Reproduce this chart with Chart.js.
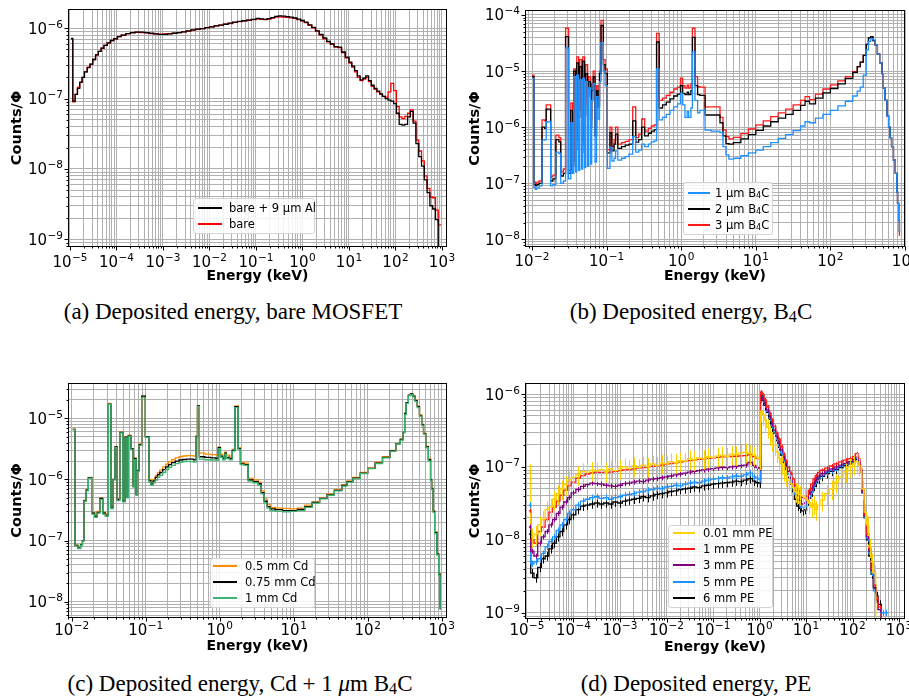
<!DOCTYPE html>
<html>
<head>
<meta charset="utf-8">
<script src="https://cdn.jsdelivr.net/npm/chart.js@4.4.1/dist/chart.umd.min.js"></script>
<style>
  body { margin: 0; background: #fff; }
  #page { position: relative; width: 909px; height: 697px; overflow: hidden; background: #fff; }
  canvas { position: absolute; }
  .cap { position: absolute; font-family: 'Liberation Serif', serif; font-size: 23px; line-height: 23px;
         white-space: nowrap; transform: translateX(-50%); color: #000; }
  .cap sub { font-size: 70%; vertical-align: -0.2em; line-height: 0; }
  .legend { position: absolute; box-sizing: border-box; background: rgba(255,255,255,0.85);
            border: 1px solid #d4d4d4; border-radius: 3px; }
  .legend .sw { position: absolute; height: 2px; }
  .legend .lt { position: absolute; font-family: 'DejaVu Sans', sans-serif; font-size: 11.5px; line-height: 13px;
                white-space: nowrap; transform: translateY(-50%); color: #000; }
  .legend .lt sub { font-size: 70%; vertical-align: -0.15em; line-height: 0; }
</style>
</head>
<body>
<div id="page">
  <canvas id="pa" width="455" height="290" style="left:0;top:0"></canvas>
  <canvas id="pb" width="454" height="290" style="left:455px;top:0"></canvas>
  <canvas id="pc" width="455" height="300" style="left:0;top:360px"></canvas>
  <canvas id="pd" width="454" height="300" style="left:455px;top:360px"></canvas>
  <div class="cap" style="left:233px;top:300px">(a) Deposited energy, bare MOSFET</div>
  <div class="cap" style="left:691px;top:300px">(b) Deposited energy, B<sub>4</sub>C</div>
  <div class="cap" style="left:240px;top:672px">(c) Deposited energy, Cd + 1 <i>μ</i>m B<sub>4</sub>C</div>
  <div class="cap" style="left:696px;top:672px">(d) Deposited energy, PE</div>
</div>
<script>
// histogram bin edges are log10(E / keV); each value array holds counts/Φ per bin

// (a) bare MOSFET
const edgesA = [-4.98, -4.94, -4.89, -4.84, -4.79, -4.74, -4.69, -4.63, -4.57, -4.51,
  -4.45, -4.39, -4.33, -4.27, -4.20, -4.13, -4.06, -3.98, -3.90, -3.80,
  -3.70, -3.60, -3.50, -3.40, -3.30, -3.20, -3.10, -3.00, -2.90, -2.80,
  -2.70, -2.60, -2.50, -2.40, -2.30, -2.20, -2.10, -2.00, -1.90, -1.80,
  -1.70, -1.60, -1.50, -1.40, -1.30, -1.20, -1.10, -1.00, -0.92, -0.84,
  -0.76, -0.68, -0.60, -0.52, -0.44, -0.36, -0.28, -0.20, -0.12, -0.04,
  0.04, 0.12, 0.20, 0.28, 0.36, 0.44, 0.52, 0.60, 0.68, 0.76,
  0.84, 0.92, 1.00, 1.06, 1.12, 1.18, 1.24, 1.30, 1.36, 1.42,
  1.48, 1.54, 1.60, 1.66, 1.72, 1.78, 1.84, 1.90, 1.96, 2.02,
  2.08, 2.14, 2.20, 2.26, 2.32, 2.38, 2.44, 2.50, 2.56, 2.62,
  2.68, 2.74, 2.80, 2.86, 2.92, 2.98];
const bareAl = [7.2e-7, 9.2e-8, 1.15e-7, 1.4e-7, 1.7e-7, 2.0e-7, 2.4e-7, 2.75e-7, 3.1e-7, 3.6e-7,
  4.2e-7, 4.7e-7, 5.2e-7, 5.7e-7, 6.2e-7, 6.7e-7, 7.1e-7, 7.6e-7, 8.0e-7, 8.4e-7,
  8.7e-7, 8.8e-7, 8.8e-7, 8.7e-7, 8.5e-7, 8.3e-7, 8.2e-7, 8.2e-7, 8.3e-7, 8.5e-7,
  8.7e-7, 8.9e-7, 9.2e-7, 9.5e-7, 9.7e-7, 9.9e-7, 1.02e-6, 1.05e-6, 1.08e-6, 1.11e-6,
  1.14e-6, 1.18e-6, 1.22e-6, 1.25e-6, 1.28e-6, 1.31e-6, 1.34e-6, 1.38e-6, 1.36e-6, 1.34e-6,
  1.37e-6, 1.42e-6, 1.48e-6, 1.5e-6, 1.49e-6, 1.46e-6, 1.44e-6, 1.4e-6, 1.35e-6, 1.29e-6,
  1.22e-6, 1.12e-6, 1.03e-6, 9.2e-7, 8.2e-7, 7.3e-7, 6.5e-7, 6.0e-7, 5.5e-7, 5.4e-7,
  4.6e-7, 3.9e-7, 3.3e-7, 2.9e-7, 2.5e-7, 2.1e-7, 1.85e-7, 1.95e-7, 2.1e-7, 1.8e-7,
  1.55e-7, 1.4e-7, 1.28e-7, 1.17e-7, 1.08e-7, 1.0e-7, 9.5e-8, 9.2e-8, 8.5e-8, 6.2e-8,
  4.3e-8, 4.2e-8, 4.3e-8, 5.5e-8, 6.6e-8, 4.5e-8, 2.3e-8, 1.5e-8, 1.1e-8, 7.0e-9,
  4.6e-9, 3.0e-9, 2.7e-9, 1.9e-9, 5.0e-10];
const bare = [7.0e-7, 9.0e-8, 1.15e-7, 1.45e-7, 1.72e-7, 2.0e-7, 2.4e-7, 2.8e-7, 3.1e-7, 3.6e-7,
  4.2e-7, 4.7e-7, 5.2e-7, 5.7e-7, 6.2e-7, 6.7e-7, 7.1e-7, 7.6e-7, 8.0e-7, 8.4e-7,
  8.6e-7, 8.8e-7, 8.7e-7, 8.6e-7, 8.4e-7, 8.3e-7, 8.2e-7, 8.3e-7, 8.4e-7, 8.5e-7,
  8.7e-7, 8.9e-7, 9.1e-7, 9.4e-7, 9.7e-7, 9.9e-7, 1.02e-6, 1.05e-6, 1.08e-6, 1.11e-6,
  1.14e-6, 1.17e-6, 1.21e-6, 1.24e-6, 1.27e-6, 1.3e-6, 1.33e-6, 1.35e-6, 1.34e-6, 1.33e-6,
  1.35e-6, 1.4e-6, 1.44e-6, 1.45e-6, 1.44e-6, 1.43e-6, 1.41e-6, 1.38e-6, 1.33e-6, 1.28e-6,
  1.2e-6, 1.1e-6, 1.01e-6, 9.1e-7, 8.0e-7, 7.1e-7, 6.4e-7, 5.9e-7, 5.4e-7, 5.3e-7,
  4.5e-7, 3.8e-7, 3.2e-7, 2.8e-7, 2.4e-7, 2.0e-7, 1.8e-7, 1.9e-7, 2.0e-7, 1.75e-7,
  1.5e-7, 1.35e-7, 1.25e-7, 1.15e-7, 1.08e-7, 1.05e-7, 1.25e-7, 1.65e-7, 1.3e-7, 7.7e-8,
  5.5e-8, 5.2e-8, 5.6e-8, 6.2e-8, 6.9e-8, 4.8e-8, 2.6e-8, 1.8e-8, 1.3e-8, 8.0e-9,
  5.3e-9, 4.0e-9, 3.9e-9, 2.6e-9, 1.6e-9];

// (b) B4C layers
const edgesB = [-2.000, -1.975, -1.955, -1.935, -1.905, -1.866, -1.830, -1.810, -1.750, -1.720,
  -1.680, -1.640, -1.615, -1.580, -1.550, -1.510, -1.480, -1.455, -1.440, -1.415,
  -1.400, -1.375, -1.360, -1.335, -1.320, -1.295, -1.280, -1.255, -1.240, -1.215,
  -1.200, -1.180, -1.155, -1.135, -1.115, -1.095, -1.075, -1.044, -1.020, -0.990,
  -0.955, -0.930, -0.900, -0.880, -0.850, -0.800, -0.750, -0.700, -0.650, -0.610,
  -0.570, -0.530, -0.490, -0.440, -0.400, -0.360, -0.330, -0.295, -0.250, -0.200,
  -0.150, -0.100, -0.050, -0.010, 0.020, 0.050, 0.080, 0.100, 0.130, 0.150,
  0.185, 0.220, 0.250, 0.320, 0.400, 0.520, 0.560, 0.600, 0.640, 0.700,
  0.800, 0.900, 1.000, 1.100, 1.200, 1.300, 1.400, 1.500, 1.600, 1.660,
  1.720, 1.800, 1.900, 2.000, 2.100, 2.200, 2.300, 2.360, 2.400, 2.440,
  2.480, 2.510, 2.540, 2.570, 2.600, 2.630, 2.660, 2.690, 2.710, 2.730,
  2.760, 2.780, 2.800, 2.820, 2.845, 2.870, 2.890, 2.900, 2.915, 2.925,
  2.935];
const b4c1 = [7.4e-6, 8.5e-8, 7.8e-8, 8.3e-8, 9.0e-8, 5.9e-7, 6.0e-7, 1.25e-6, 9.0e-8, 9.5e-8,
  3.6e-7, 3.4e-7, 1.0e-7, 1.1e-7, 2.6e-5, 1.2e-7, 1.2e-6, 1.5e-7, 8.0e-6, 1.6e-7,
  8.5e-6, 1.7e-7, 7.0e-6, 1.8e-7, 7.5e-6, 1.9e-7, 6.5e-6, 2.0e-7, 5.0e-6, 2.2e-7,
  3.0e-6, 6.0e-6, 2.4e-7, 3.5e-6, 1.4e-6, 6.5e-6, 3.2e-5, 1.0e-5, 5.5e-6, 1.85e-7,
  4.4e-7, 2.5e-7, 2.8e-7, 3.8e-7, 2.6e-7, 2.8e-7, 3.0e-7, 3.3e-7, 6.8e-7, 3.6e-7,
  3.9e-7, 5.0e-7, 4.5e-7, 5.0e-7, 5.5e-7, 5.7e-7, 1.1e-5, 1.35e-6, 1.5e-6, 1.7e-6,
  2.0e-6, 2.3e-6, 2.6e-6, 4.0e-6, 2.5e-6, 1.5e-6, 1.9e-6, 1.5e-6, 2.2e-6, 2.2e-5,
  3.0e-6, 1.8e-6, 2.0e-6, 8.9e-7, 8.5e-7, 8.0e-7, 4.5e-7, 3.2e-7, 2.7e-7, 2.8e-7,
  3.1e-7, 3.5e-7, 3.9e-7, 4.5e-7, 5.3e-7, 6.3e-7, 7.4e-7, 8.7e-7, 1.05e-6, 1.25e-6,
  1.2e-6, 1.45e-6, 1.7e-6, 2.0e-6, 2.4e-6, 2.9e-6, 3.6e-6, 4.4e-6, 5.2e-6, 8.5e-6,
  2.4e-5, 3.4e-5, 3.8e-5, 3.6e-5, 2.9e-5, 2.0e-5, 1.4e-5, 9.0e-6, 5.0e-6, 3.0e-6,
  1.6e-6, 1.0e-6, 6.5e-7, 4.5e-7, 2.6e-7, 1.5e-7, 7.0e-8, 4.4e-8, 2.2e-8, 1.4e-8];
const b4c2 = [8.0e-6, 9.5e-8, 9.0e-8, 9.5e-8, 1.0e-7, 1.0e-6, 9.5e-7, 2.1e-6, 1.1e-7, 1.2e-7,
  6.0e-7, 5.5e-7, 1.35e-7, 1.5e-7, 4.1e-5, 1.5e-7, 2.0e-6, 2.0e-7, 1.0e-5, 4.0e-7,
  1.4e-5, 1.5e-6, 1.2e-5, 3.5e-7, 1.5e-5, 1.6e-6, 9.0e-6, 3.5e-6, 6.5e-6, 1.0e-6,
  4.5e-6, 8.0e-6, 7.0e-7, 4.5e-6, 2.3e-6, 9.0e-6, 6.5e-5, 1.3e-5, 9.0e-6, 3.5e-7,
  8.0e-7, 3.8e-7, 5.0e-7, 7.5e-7, 4.2e-7, 4.5e-7, 4.8e-7, 5.0e-7, 1.3e-6, 5.4e-7,
  6.0e-7, 1.0e-6, 7.0e-7, 7.8e-7, 8.5e-7, 9.0e-7, 3.3e-5, 2.2e-6, 2.5e-6, 2.8e-6,
  3.2e-6, 3.6e-6, 3.9e-6, 5.5e-6, 4.0e-6, 3.8e-6, 4.2e-6, 3.8e-6, 4.5e-6, 4.0e-5,
  5.5e-6, 3.8e-6, 3.7e-6, 1.65e-6, 1.65e-6, 1.2e-6, 7.0e-7, 5.1e-7, 5.0e-7, 5.3e-7,
  6.2e-7, 7.4e-7, 8.8e-7, 1.05e-6, 1.25e-6, 1.45e-6, 1.7e-6, 2.0e-6, 2.45e-6, 2.9e-6,
  2.6e-6, 3.3e-6, 4.1e-6, 4.9e-6, 5.9e-6, 7.4e-6, 9.5e-6, 1.2e-5, 1.45e-5, 1.9e-5,
  3.0e-5, 3.9e-5, 4.1e-5, 3.5e-5, 2.9e-5, 2.0e-5, 1.4e-5, 9.0e-6, 5.0e-6, 3.0e-6,
  1.6e-6, 1.0e-6, 6.5e-7, 4.5e-7, 2.6e-7, 1.5e-7, 7.0e-8, 4.4e-8, 2.2e-8, 1.4e-8];
const b4c3 = [8.5e-6, 1.05e-7, 1.0e-7, 1.05e-7, 1.1e-7, 1.35e-6, 1.3e-6, 2.5e-6, 1.3e-7, 1.4e-7,
  7.2e-7, 6.5e-7, 1.6e-7, 1.8e-7, 5.8e-5, 1.7e-7, 2.7e-6, 2.5e-7, 1.1e-5, 6.0e-7,
  1.8e-5, 2.0e-6, 1.6e-5, 5.0e-7, 1.8e-5, 2.5e-6, 1.3e-5, 5.0e-6, 8.0e-6, 1.4e-6,
  6.0e-6, 1.0e-5, 1.0e-6, 5.5e-6, 3.0e-6, 1.0e-5, 8.0e-5, 1.6e-5, 1.1e-5, 4.0e-7,
  1.0e-6, 4.5e-7, 6.0e-7, 1.0e-6, 5.0e-7, 5.3e-7, 5.6e-7, 6.0e-7, 2.3e-6, 6.5e-7,
  7.5e-7, 1.4e-6, 8.5e-7, 9.5e-7, 1.05e-6, 1.1e-6, 4.7e-5, 3.0e-6, 3.3e-6, 3.7e-6,
  4.2e-6, 4.8e-6, 5.2e-6, 7.5e-6, 5.5e-6, 5.0e-6, 5.6e-6, 5.0e-6, 6.0e-6, 5.8e-5,
  8.0e-6, 5.3e-6, 5.2e-6, 2.3e-6, 2.3e-6, 1.5e-6, 9.0e-7, 6.8e-7, 6.2e-7, 6.6e-7,
  7.7e-7, 9.3e-7, 1.1e-6, 1.3e-6, 1.55e-6, 1.8e-6, 2.1e-6, 2.5e-6, 3.0e-6, 3.5e-6,
  3.1e-6, 3.9e-6, 4.8e-6, 5.7e-6, 6.7e-6, 8.0e-6, 9.8e-6, 1.2e-5, 1.45e-5, 1.9e-5,
  3.0e-5, 3.9e-5, 4.1e-5, 3.5e-5, 2.9e-5, 2.0e-5, 1.4e-5, 9.0e-6, 5.0e-6, 3.0e-6,
  1.6e-6, 1.0e-6, 6.5e-7, 4.5e-7, 2.6e-7, 1.5e-7, 7.0e-8, 4.4e-8, 2.2e-8, 1.2e-8];

// (c) Cd + 1 um B4C
const edgesC = [-1.986, -1.955, -1.915, -1.880, -1.855, -1.835, -1.805, -1.775, -1.730, -1.690,
  -1.655, -1.620, -1.580, -1.545, -1.505, -1.470, -1.440, -1.415, -1.385, -1.350,
  -1.310, -1.280, -1.255, -1.235, -1.200, -1.170, -1.150, -1.130, -1.110, -1.090,
  -1.055, -1.005, -0.955, -0.930, -0.900, -0.870, -0.840, -0.810, -0.770, -0.730,
  -0.690, -0.650, -0.600, -0.550, -0.500, -0.450, -0.400, -0.355, -0.320, -0.300,
  -0.275, -0.200, -0.120, -0.050, -0.020, 0.010, 0.040, 0.070, 0.090, 0.130,
  0.170, 0.205, 0.250, 0.280, 0.330, 0.385, 0.450, 0.520, 0.560, 0.600,
  0.640, 0.680, 0.750, 0.850, 0.950, 1.050, 1.150, 1.250, 1.350, 1.450,
  1.550, 1.650, 1.720, 1.800, 1.900, 2.000, 2.100, 2.200, 2.300, 2.380,
  2.440, 2.480, 2.500, 2.520, 2.550, 2.580, 2.610, 2.640, 2.670, 2.700,
  2.730, 2.755, 2.785, 2.820, 2.850, 2.865, 2.885, 2.905, 2.935, 2.960,
  2.980, 2.990];
const cd050 = [6.7e-6, 8.4e-8, 7.7e-8, 8.7e-8, 1.0e-7, 4.6e-7, 6.8e-7, 1.08e-6, 2.9e-7, 2.6e-7,
  3.0e-7, 5.0e-7, 2.9e-7, 2.7e-7, 1.75e-5, 3.6e-7, 1.0e-6, 3.4e-6, 4.8e-7, 6.0e-6,
  4.5e-7, 5.0e-6, 5.2e-7, 5.3e-6, 3.2e-6, 7.8e-7, 2.2e-6, 5.8e-7, 1.4e-6, 3.8e-6,
  2.3e-5, 5.0e-6, 1.0e-6, 8.8e-7, 1.0e-6, 1.15e-6, 1.3e-6, 1.42e-6, 1.6e-6, 1.78e-6,
  1.95e-6, 2.1e-6, 2.25e-6, 2.35e-6, 2.42e-6, 2.45e-6, 2.45e-6, 2.4e-6, 5.2e-6, 1.6e-5,
  2.7e-6, 2.6e-6, 2.55e-6, 2.5e-6, 3.4e-6, 2.6e-6, 2.3e-6, 2.8e-6, 2.5e-6, 2.4e-6,
  3.1e-6, 1.6e-5, 3.3e-6, 1.9e-6, 1.85e-6, 1.05e-6, 9.8e-7, 9.0e-7, 6.5e-7, 4.8e-7,
  3.9e-7, 3.5e-7, 3.4e-7, 3.35e-7, 3.3e-7, 3.4e-7, 3.8e-7, 4.3e-7, 5.0e-7, 5.8e-7,
  6.8e-7, 8.2e-7, 9.5e-7, 1.08e-6, 1.3e-6, 1.55e-6, 1.9e-6, 2.35e-6, 3.0e-6, 3.9e-6,
  4.6e-6, 6.0e-6, 1.2e-5, 1.8e-5, 2.4e-5, 2.5e-5, 2.3e-5, 2.0e-5, 1.6e-5, 1.15e-5,
  8.0e-6, 5.8e-6, 3.5e-6, 2.2e-6, 1.0e-6, 7.2e-7, 3.1e-7, 1.4e-7, 6.1e-8, 2.9e-8, 8.0e-9];
const cd075 = [6.6e-6, 8.3e-8, 7.5e-8, 8.6e-8, 1.0e-7, 4.5e-7, 6.7e-7, 1.07e-6, 2.8e-7, 2.5e-7,
  2.9e-7, 4.9e-7, 2.8e-7, 2.6e-7, 1.7e-5, 3.5e-7, 1.0e-6, 3.4e-6, 4.7e-7, 5.9e-6,
  4.4e-7, 4.9e-6, 5.1e-7, 5.2e-6, 3.2e-6, 7.7e-7, 2.2e-6, 5.7e-7, 1.4e-6, 3.7e-6,
  2.3e-5, 5.0e-6, 9.6e-7, 8.4e-7, 9.5e-7, 1.08e-6, 1.2e-6, 1.3e-6, 1.45e-6, 1.6e-6,
  1.75e-6, 1.88e-6, 2.0e-6, 2.08e-6, 2.12e-6, 2.15e-6, 2.15e-6, 2.1e-6, 5.0e-6, 1.6e-5,
  2.35e-6, 2.3e-6, 2.25e-6, 2.2e-6, 3.3e-6, 2.4e-6, 2.2e-6, 2.7e-6, 2.3e-6, 2.2e-6,
  3.0e-6, 1.55e-5, 3.2e-6, 1.8e-6, 1.75e-6, 9.8e-7, 9.2e-7, 8.5e-7, 6.1e-7, 4.4e-7,
  3.6e-7, 3.3e-7, 3.2e-7, 3.1e-7, 3.1e-7, 3.25e-7, 3.6e-7, 4.2e-7, 4.9e-7, 5.6e-7,
  6.6e-7, 8.0e-7, 9.2e-7, 1.05e-6, 1.27e-6, 1.52e-6, 1.85e-6, 2.3e-6, 2.95e-6, 3.85e-6,
  4.5e-6, 5.9e-6, 1.2e-5, 1.8e-5, 2.4e-5, 2.5e-5, 2.3e-5, 1.95e-5, 1.55e-5, 1.1e-5,
  7.8e-6, 5.6e-6, 3.4e-6, 2.1e-6, 9.8e-7, 7.0e-7, 3.0e-7, 1.35e-7, 6.0e-8, 2.8e-8, 7.8e-9];
const cd100 = [6.5e-6, 8.2e-8, 7.4e-8, 8.4e-8, 9.8e-8, 4.4e-7, 6.5e-7, 1.05e-6, 2.7e-7, 2.4e-7,
  2.8e-7, 4.7e-7, 2.7e-7, 2.5e-7, 1.7e-5, 3.3e-7, 9.8e-7, 3.3e-6, 4.5e-7, 5.8e-6,
  4.3e-7, 4.8e-6, 5.0e-7, 5.1e-6, 3.1e-6, 7.5e-7, 2.1e-6, 5.5e-7, 1.35e-6, 3.6e-6,
  2.2e-5, 4.9e-6, 9.0e-7, 8.0e-7, 8.8e-7, 9.8e-7, 1.08e-6, 1.17e-6, 1.3e-6, 1.45e-6,
  1.58e-6, 1.7e-6, 1.82e-6, 1.9e-6, 1.95e-6, 1.97e-6, 1.96e-6, 1.92e-6, 4.9e-6, 1.55e-5,
  2.15e-6, 2.1e-6, 2.08e-6, 2.05e-6, 3.2e-6, 2.3e-6, 2.1e-6, 2.6e-6, 2.2e-6, 2.1e-6,
  2.9e-6, 1.5e-5, 3.1e-6, 1.75e-6, 1.7e-6, 9.4e-7, 8.8e-7, 8.0e-7, 5.8e-7, 4.1e-7,
  3.4e-7, 3.1e-7, 3.0e-7, 2.95e-7, 3.0e-7, 3.1e-7, 3.5e-7, 4.1e-7, 4.8e-7, 5.5e-7,
  6.5e-7, 7.8e-7, 9.0e-7, 1.03e-6, 1.25e-6, 1.5e-6, 1.82e-6, 2.25e-6, 2.9e-6, 3.8e-6,
  4.4e-6, 5.8e-6, 1.15e-5, 1.75e-5, 2.35e-5, 2.45e-5, 2.25e-5, 1.9e-5, 1.5e-5, 1.08e-5,
  7.6e-6, 5.5e-6, 3.3e-6, 2.0e-6, 9.5e-7, 6.8e-7, 2.9e-7, 1.3e-7, 5.8e-8, 2.7e-8, 7.5e-9];

// (d) PE moderators
const edgesD = [-4.96, -4.92, -4.85, -4.77, -4.69, -4.61, -4.53, -4.45, -4.37, -4.29,
  -4.21, -4.13, -4.05, -3.95, -3.85, -3.75, -3.65, -3.55, -3.45, -3.35,
  -3.25, -3.15, -3.05, -2.95, -2.85, -2.75, -2.65, -2.55, -2.45, -2.35,
  -2.25, -2.15, -2.05, -1.95, -1.85, -1.75, -1.65, -1.55, -1.45, -1.35,
  -1.25, -1.15, -1.05, -0.95, -0.85, -0.75, -0.65, -0.55, -0.45, -0.35,
  -0.25, -0.15, -0.08, -0.02, 0.025, 0.06, 0.10, 0.15, 0.20, 0.25,
  0.30, 0.35, 0.40, 0.45, 0.50, 0.55, 0.60, 0.65, 0.70, 0.75,
  0.80, 0.85, 0.90, 0.95, 1.00, 1.05, 1.10, 1.15, 1.20, 1.25,
  1.30, 1.40, 1.50, 1.60, 1.70, 1.80, 1.90, 2.00, 2.06, 2.12,
  2.16, 2.20, 2.25, 2.30, 2.35, 2.40, 2.45, 2.50, 2.55, 2.62,
  2.70, 2.76];
const pe001 = [8.5e-8, 1.1e-8, 1.2e-8, 1.6e-8, 1.9e-8, 2.6e-8, 2.8e-8, 3.6e-8, 4.3e-8, 5.0e-8,
  5.8e-8, 6.6e-8, 7.2e-8, 7.8e-8, 8.6e-8, 8.5e-8, 9.0e-8, 8.8e-8, 9.2e-8, 8.7e-8,
  9.4e-8, 8.9e-8, 9.6e-8, 1.0e-7, 9.5e-8, 1.03e-7, 9.8e-8, 1.06e-7, 1.02e-7, 1.1e-7,
  1.05e-7, 1.13e-7, 1.1e-7, 1.18e-7, 1.15e-7, 1.22e-7, 1.2e-7, 1.3e-7, 1.25e-7, 1.33e-7,
  1.3e-7, 1.38e-7, 1.35e-7, 1.42e-7, 1.45e-7, 1.4e-7, 1.5e-7, 1.47e-7, 1.55e-7, 1.6e-7,
  1.52e-7, 1.45e-7, 1.35e-7, 1.3e-7, 5.8e-7, 5.2e-7, 4.4e-7, 3.5e-7, 2.8e-7, 2.3e-7,
  2.0e-7, 1.6e-7, 1.3e-7, 1.1e-7, 9.0e-8, 7.6e-8, 6.6e-8, 5.9e-8, 5.2e-8, 4.6e-8,
  4.4e-8, 4.2e-8, 4.0e-8, 3.8e-8, 3.5e-8, 3.2e-8, 2.8e-8, 3.1e-8, 2.6e-8, 3.0e-8,
  3.5e-8, 4.3e-8, 5.0e-8, 6.2e-8, 7.3e-8, 8.6e-8, 1.0e-7, 1.1e-7, 1.18e-7, 1.05e-7,
  8.5e-8, 5.0e-8, 2.4e-8, 1.6e-8, 8.0e-9, 5.0e-9, 3.5e-9, 6.0e-10, 6.0e-10, 6.0e-10, 6.0e-10];
const pe1 = [2.5e-8, 1.0e-8, 9.0e-9, 1.3e-8, 1.5e-8, 1.9e-8, 2.4e-8, 2.8e-8, 3.4e-8, 4.1e-8,
  4.8e-8, 5.5e-8, 6.2e-8, 7.0e-8, 7.6e-8, 8.0e-8, 8.3e-8, 8.5e-8, 8.4e-8, 8.6e-8,
  8.5e-8, 8.7e-8, 8.9e-8, 9.1e-8, 9.2e-8, 9.4e-8, 9.6e-8, 9.8e-8, 1.0e-7, 1.02e-7,
  1.04e-7, 1.06e-7, 1.09e-7, 1.11e-7, 1.14e-7, 1.16e-7, 1.19e-7, 1.22e-7, 1.24e-7, 1.27e-7,
  1.29e-7, 1.31e-7, 1.33e-7, 1.35e-7, 1.37e-7, 1.38e-7, 1.39e-7, 1.4e-7, 1.42e-7, 1.43e-7,
  1.48e-7, 1.38e-7, 1.32e-7, 1.3e-7, 1.07e-6, 9.8e-7, 8.3e-7, 6.7e-7, 5.4e-7, 4.4e-7,
  3.6e-7, 2.9e-7, 2.4e-7, 1.9e-7, 1.5e-7, 1.2e-7, 9.8e-8, 8.2e-8, 6.8e-8, 5.6e-8,
  4.8e-8, 4.2e-8, 3.8e-8, 3.7e-8, 4.0e-8, 4.8e-8, 5.8e-8, 6.8e-8, 7.6e-8, 8.4e-8,
  9.0e-8, 9.6e-8, 1.03e-7, 1.1e-7, 1.17e-7, 1.24e-7, 1.3e-7, 1.38e-7, 1.52e-7, 1.3e-7,
  9.5e-8, 4.8e-8, 2.2e-8, 1.2e-8, 7.5e-9, 4.0e-9, 2.4e-9, 1.6e-9, 1.2e-9, 6.0e-10, 6.0e-10];
const pe3 = [1.5e-8, 7.0e-9, 6.0e-9, 9.0e-9, 1.1e-8, 1.3e-8, 1.6e-8, 1.9e-8, 2.3e-8, 2.8e-8,
  3.3e-8, 3.8e-8, 4.4e-8, 4.9e-8, 5.4e-8, 5.7e-8, 6.0e-8, 5.9e-8, 5.8e-8, 5.6e-8,
  5.5e-8, 5.4e-8, 5.6e-8, 5.9e-8, 6.0e-8, 6.2e-8, 6.4e-8, 6.3e-8, 6.6e-8, 6.8e-8,
  6.9e-8, 7.1e-8, 7.3e-8, 7.5e-8, 7.8e-8, 8.0e-8, 8.2e-8, 8.5e-8, 8.7e-8, 8.9e-8,
  9.1e-8, 9.3e-8, 9.5e-8, 9.7e-8, 9.9e-8, 9.8e-8, 1.0e-7, 1.02e-7, 1.04e-7, 1.06e-7,
  1.15e-7, 1.05e-7, 9.8e-8, 9.6e-8, 9.0e-7, 8.6e-7, 7.4e-7, 6.0e-7, 4.9e-7, 3.9e-7,
  3.2e-7, 2.6e-7, 2.1e-7, 1.7e-7, 1.35e-7, 1.08e-7, 8.6e-8, 7.0e-8, 5.7e-8, 4.7e-8,
  4.0e-8, 3.5e-8, 3.1e-8, 3.2e-8, 3.5e-8, 4.2e-8, 5.1e-8, 6.0e-8, 6.8e-8, 7.5e-8,
  8.1e-8, 8.8e-8, 9.4e-8, 1.0e-7, 1.06e-7, 1.12e-7, 1.18e-7, 1.26e-7, 1.36e-7, 1.2e-7,
  9.0e-8, 4.6e-8, 2.1e-8, 1.1e-8, 7.0e-9, 3.8e-9, 2.2e-9, 1.5e-9, 1.1e-9, 6.0e-10, 6.0e-10];
const pe5 = [3.0e-8, 4.7e-9, 5.0e-9, 5.5e-9, 6.5e-9, 8.0e-9, 9.5e-9, 1.1e-8, 1.35e-8, 1.6e-8,
  1.9e-8, 2.3e-8, 2.6e-8, 3.0e-8, 3.4e-8, 3.6e-8, 3.8e-8, 3.9e-8, 3.7e-8, 3.8e-8,
  3.6e-8, 3.8e-8, 3.9e-8, 4.1e-8, 4.2e-8, 4.3e-8, 4.5e-8, 4.6e-8, 4.8e-8, 4.9e-8,
  5.1e-8, 5.0e-8, 5.3e-8, 5.4e-8, 5.6e-8, 5.5e-8, 5.8e-8, 6.0e-8, 6.2e-8, 6.1e-8,
  6.4e-8, 6.6e-8, 6.8e-8, 6.9e-8, 7.1e-8, 7.0e-8, 7.3e-8, 7.5e-8, 7.4e-8, 7.8e-8,
  8.2e-8, 7.3e-8, 7.0e-8, 6.8e-8, 9.3e-7, 8.4e-7, 7.2e-7, 5.8e-7, 4.7e-7, 3.7e-7,
  3.0e-7, 2.4e-7, 1.95e-7, 1.55e-7, 1.25e-7, 1.0e-7, 8.0e-8, 6.5e-8, 5.2e-8, 4.2e-8,
  3.5e-8, 3.0e-8, 2.8e-8, 2.8e-8, 3.2e-8, 3.9e-8, 4.7e-8, 5.6e-8, 6.4e-8, 7.1e-8,
  7.7e-8, 8.4e-8, 9.0e-8, 9.6e-8, 1.02e-7, 1.08e-7, 1.14e-7, 1.21e-7, 1.31e-7, 1.15e-7,
  8.8e-8, 4.5e-8, 2.0e-8, 1.05e-8, 6.5e-9, 3.5e-9, 2.0e-9, 1.4e-9, 1.1e-9, 1.0e-9, 1.0e-9];
const pe6 = [1.2e-8, 3.5e-9, 3.0e-9, 4.2e-9, 5.5e-9, 6.0e-9, 7.5e-9, 9.0e-9, 1.1e-8, 1.3e-8,
  1.6e-8, 1.9e-8, 2.2e-8, 2.6e-8, 2.9e-8, 3.0e-8, 3.1e-8, 3.2e-8, 3.1e-8, 3.2e-8,
  3.1e-8, 3.3e-8, 3.2e-8, 3.4e-8, 3.5e-8, 3.6e-8, 3.7e-8, 3.9e-8, 3.8e-8, 4.0e-8,
  4.2e-8, 4.3e-8, 4.4e-8, 4.6e-8, 4.7e-8, 4.9e-8, 5.0e-8, 5.1e-8, 5.3e-8, 5.2e-8,
  5.5e-8, 5.6e-8, 5.8e-8, 5.9e-8, 6.0e-8, 6.1e-8, 6.2e-8, 6.4e-8, 6.3e-8, 6.6e-8,
  6.9e-8, 6.4e-8, 6.1e-8, 6.0e-8, 9.5e-7, 8.2e-7, 7.0e-7, 5.6e-7, 4.5e-7, 3.5e-7,
  2.9e-7, 2.3e-7, 1.85e-7, 1.45e-7, 1.15e-7, 9.2e-8, 7.2e-8, 5.8e-8, 4.6e-8, 3.6e-8,
  2.9e-8, 2.7e-8, 2.5e-8, 2.6e-8, 3.0e-8, 3.7e-8, 4.5e-8, 5.4e-8, 6.1e-8, 6.8e-8,
  7.4e-8, 8.1e-8, 8.7e-8, 9.2e-8, 9.8e-8, 1.04e-7, 1.1e-7, 1.17e-7, 1.26e-7, 1.1e-7,
  8.5e-8, 4.4e-8, 2.0e-8, 1.0e-8, 6.0e-9, 3.4e-9, 2.2e-9, 1.7e-9, 1.3e-9, 6.0e-10, 6.0e-10];
// relative size of the statistical error bars on the PE curves (0.01, 1, 3, 5, 6 mm)
const peRelErr = [0.3, 0.06, 0.08, 0.1, 0.14];

const FONT = "'DejaVu Sans', sans-serif";
const LABEL_PX = 15, EXP_PX = 10.5, EXP_RAISE = 6;

function isDecade(v) {
  const e = Math.log10(v);
  return Math.abs(e - Math.round(e)) < 1e-6;
}

// every m*10^k inside [lo, hi] (given as exponents)
function logTicks(lo, hi) {
  const out = [];
  for (let k = Math.floor(lo); k <= Math.ceil(hi); k++) {
    for (let m = 1; m < 10; m++) {
      const e = Math.log10(m) + k;
      if (e >= lo - 1e-9 && e <= hi + 1e-9) out.push({ value: Math.pow(10, e) });
    }
  }
  return out;
}

// step histogram: value i spans edges[i]..edges[i+1]
function histPoints(edges, vals) {
  const pts = vals.map((v, i) => ({ x: Math.pow(10, edges[i]), y: v }));
  pts.push({ x: Math.pow(10, edges[vals.length]), y: vals[vals.length - 1] });
  return pts;
}

// "10" with a raised exponent, like mathtext; anchor is 'center' or 'right'
function drawPower(ctx, v, x, baseY, anchor) {
  const exp = String(Math.round(Math.log10(v))).replace('-', '\u2212');
  ctx.font = LABEL_PX + 'px ' + FONT;
  const w1 = ctx.measureText('10').width;
  ctx.font = EXP_PX + 'px ' + FONT;
  const w2 = ctx.measureText(exp).width;
  const total = w1 + 0.5 + w2;
  const left = anchor === 'center' ? x - total / 2 : x - total;
  ctx.textAlign = 'left';
  ctx.textBaseline = 'alphabetic';
  ctx.fillStyle = '#000';
  ctx.font = LABEL_PX + 'px ' + FONT;
  ctx.fillText('10', left, baseY);
  ctx.font = EXP_PX + 'px ' + FONT;
  ctx.fillText(exp, left + w1 + 0.5, baseY - EXP_RAISE);
}

// error bars at bin centres for datasets carrying relErr
const errorBars = {
  id: 'errorBars',
  afterDatasetsDraw(chart) {
    const { ctx, chartArea: a, scales: { x, y } } = chart;
    ctx.save();
    ctx.beginPath();
    ctx.rect(a.left, a.top, a.right - a.left, a.bottom - a.top);
    ctx.clip();
    for (let d = chart.data.datasets.length - 1; d >= 0; d--) {
      const ds = chart.data.datasets[d];
      if (!ds.relErr) continue;
      const pts = ds.data;
      ctx.strokeStyle = ds.borderColor;
      ctx.lineWidth = 1;
      ctx.beginPath();
      for (let i = 0; i < pts.length - 1; i++) {
        const px = Math.round(x.getPixelForValue(Math.sqrt(pts[i].x * pts[i + 1].x))) + 0.5;
        ctx.moveTo(px, y.getPixelForValue(pts[i].y * (1 + ds.relErr)));
        ctx.lineTo(px, y.getPixelForValue(pts[i].y * (1 - ds.relErr)));
      }
      ctx.stroke();
    }
    ctx.restore();
  }
};

// black frame, outward ticks (long on decades) and the 10^n tick labels
const axesFrame = {
  id: 'axesFrame',
  afterDraw(chart) {
    const { ctx, chartArea: a, scales } = chart;
    const o = chart.options.frame;
    const L = Math.round(a.left) + 0.5, R = Math.round(a.right) - 0.5;
    const T = Math.round(a.top) + 0.5, B = Math.round(a.bottom) - 0.5;
    ctx.save();
    ctx.strokeStyle = '#000';
    ctx.lineWidth = 1;
    ctx.beginPath();
    scales.x.ticks.forEach(t => {
      const px = Math.round(scales.x.getPixelForValue(t.value)) + 0.5;
      ctx.moveTo(px, B);
      ctx.lineTo(px, B + (isDecade(t.value) ? 4 : 2));
    });
    scales.y.ticks.forEach(t => {
      const py = Math.round(scales.y.getPixelForValue(t.value)) + 0.5;
      ctx.moveTo(L, py);
      ctx.lineTo(L - (isDecade(t.value) ? 4 : 2), py);
    });
    ctx.stroke();
    ctx.strokeRect(L, T, R - L, B - T);
    scales.x.ticks.filter(t => isDecade(t.value)).forEach(t => {
      drawPower(ctx, t.value, scales.x.getPixelForValue(t.value), a.bottom + o.xLabelDrop, 'center');
    });
    scales.y.ticks.filter(t => isDecade(t.value)).forEach(t => {
      drawPower(ctx, t.value, a.left - 5, scales.y.getPixelForValue(t.value) + 5.5, 'right');
    });
    ctx.restore();
  }
};

function logAxis(range, isX, o) {
  const [lo, hi] = range;
  return {
    type: 'logarithmic',
    position: isX ? 'bottom' : 'left',
    bounds: 'data',
    min: Math.pow(10, lo),
    max: Math.pow(10, hi),
    afterBuildTicks: s => { s.ticks = logTicks(lo, hi); },
    afterFit: s => {
      if (isX) { s.height = o.xh; s.paddingLeft = 0; s.paddingRight = 0; }
      else { s.width = o.yw; s.paddingTop = 0; s.paddingBottom = 0; }
    },
    ticks: { display: false, autoSkip: false },
    grid: { color: '#b0b0b0', lineWidth: 1, drawTicks: false },
    border: { display: false },
    title: {
      display: true,
      text: isX ? 'Energy (keV)' : 'Counts/Φ',
      color: '#000',
      font: { family: FONT, size: isX ? 14 : 14.5, weight: 'bold' },
      padding: isX ? { top: 0, bottom: o.xtPad } : { top: o.ytPad, bottom: 0 }
    }
  };
}

function panel(id, o) {
  return new Chart(document.getElementById(id), {
    type: 'line',
    data: {
      datasets: o.series.map(s => ({
        label: s.label,
        data: histPoints(o.edges, s.values),
        relErr: s.relErr || 0,
        borderColor: s.color,
        borderWidth: 1.3,
        pointRadius: 0,
        stepped: true,
        fill: false
      }))
    },
    options: {
      animation: false, responsive: false, devicePixelRatio: 1, events: [],
      frame: { xLabelDrop: o.xLabelDrop },
      layout: { padding: { top: o.top, right: o.right, left: 0, bottom: 0 } },
      plugins: { legend: { display: false }, tooltip: { enabled: false } },
      scales: { x: logAxis(o.x, true, o), y: logAxis(o.y, false, o) }
    },
    plugins: [errorBars, axesFrame]
  });
}

// first dataset is painted last, i.e. on top
panel('pa', {
  edges: edgesA, x: [-5.043, 3.108], y: [-9.109, -5.726],
  top: 9, right: 8, yw: 68, xh: 43, ytPad: 9, xtPad: 5.5, xLabelDrop: 19.5,
  series: [
    { label: 'bare + 9 µm Al', values: bareAl, color: '#000000' },
    { label: 'bare', values: bare, color: '#ff0000' }
  ]
});
panel('pb', {
  edges: edgesB, x: [-2.094, 3.0], y: [-8.135, -3.911],
  top: 10, right: 4, yw: 70, xh: 43, ytPad: 12, xtPad: 5.5, xLabelDrop: 18.5,
  series: [
    { label: '1 µm B4C', values: b4c1, color: '#1e90ff' },
    { label: '2 µm B4C', values: b4c2, color: '#000000' },
    { label: '3 µm B4C', values: b4c3, color: '#ff1a1a' }
  ]
});
panel('pc', {
  edges: edgesC, x: [-2.05, 3.072], y: [-8.267, -4.422],
  top: 23, right: 8, yw: 68, xh: 42, ytPad: 9, xtPad: 5, xLabelDrop: 16.5,
  series: [
    { label: '1 mm Cd', values: cd100, color: '#3cb371' },
    { label: '0.75 mm Cd', values: cd075, color: '#000000' },
    { label: '0.5 mm Cd', values: cd050, color: '#ff8c00' }
  ]
});
panel('pd', {
  edges: edgesD, x: [-5.043, 3.129], y: [-9.086, -5.849],
  top: 23, right: 4, yw: 70, xh: 41, ytPad: 12, xtPad: 4, xLabelDrop: 16,
  series: [
    { label: '0.01 mm PE', values: pe001, color: '#ffd000', relErr: peRelErr[0] },
    { label: '1 mm PE', values: pe1, color: '#ff1a1a', relErr: peRelErr[1] },
    { label: '3 mm PE', values: pe3, color: '#800080', relErr: peRelErr[2] },
    { label: '5 mm PE', values: pe5, color: '#1e90ff', relErr: peRelErr[3] },
    { label: '6 mm PE', values: pe6, color: '#000000', relErr: peRelErr[4] }
  ]
});

// legends, placed inside each axes box
const legendBoxes = [
  { box: [193, 198, 122, 36], line: [198, 222], textX: 229, row0: 208, dy: 16,
    items: [['bare + 9 µm Al', '#000000'], ['bare', '#ff0000']] },
  { box: [683, 182, 90, 53], line: [688, 710], textX: 715, row0: 193, dy: 16,
    items: [['1 µm B<sub>4</sub>C', '#1e90ff'], ['2 µm B<sub>4</sub>C', '#000000'], ['3 µm B<sub>4</sub>C', '#ff1a1a']] },
  { box: [210, 558, 105, 50], line: [213, 237], textX: 245, row0: 566, dy: 16,
    items: [['0.5 mm Cd', '#ff8c00'], ['0.75 mm Cd', '#000000'], ['1 mm Cd', '#3cb371']] },
  { box: [668, 525, 105, 83], line: [673, 695], textX: 703, row0: 533, dy: 16.2,
    items: [['0.01 mm PE', '#ffd000'], ['1 mm PE', '#ff1a1a'], ['3 mm PE', '#800080'], ['5 mm PE', '#1e90ff'], ['6 mm PE', '#000000']] }
];
const page = document.getElementById('page');
legendBoxes.forEach(lg => {
  const [bx, by, bw, bh] = lg.box;
  const el = document.createElement('div');
  el.className = 'legend';
  Object.assign(el.style, { left: bx + 'px', top: by + 'px', width: bw + 'px', height: bh + 'px' });
  lg.items.forEach(([text, color], i) => {
    const cy = Math.round(lg.row0 + i * lg.dy) - by;
    const sw = document.createElement('div');
    sw.className = 'sw';
    Object.assign(sw.style, { left: (lg.line[0] - bx - 1) + 'px', width: (lg.line[1] - lg.line[0]) + 'px',
                              top: (cy - 2) + 'px', background: color });
    const tx = document.createElement('div');
    tx.className = 'lt';
    tx.innerHTML = text;
    Object.assign(tx.style, { left: (lg.textX - bx - 1) + 'px', top: (cy - 1) + 'px' });
    el.appendChild(sw);
    el.appendChild(tx);
  });
  page.appendChild(el);
});
</script>
</body>
</html>
